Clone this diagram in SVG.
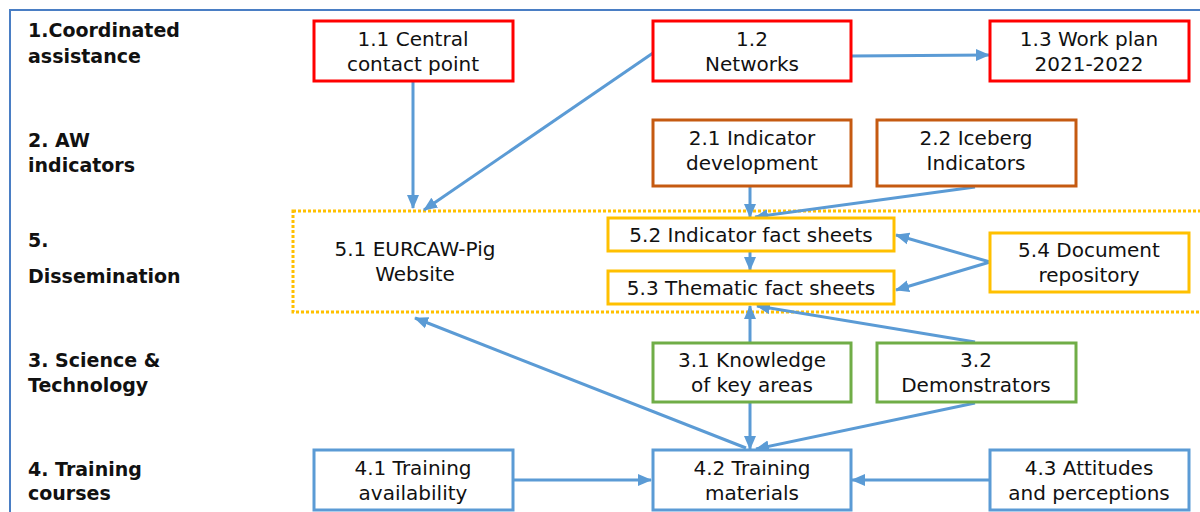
<svg xmlns="http://www.w3.org/2000/svg" width="1200" height="512" viewBox="0 0 1200 512">
<defs>
<style>
.lbl{font-family:"DejaVu Sans","Liberation Sans",sans-serif;font-weight:bold;font-size:19px;fill:#111}
.t{font-family:"DejaVu Sans","Liberation Sans",sans-serif;font-size:20px;fill:#111;text-anchor:middle}
.box{fill:#fff;stroke-width:3}
.red{stroke:#FF0000}
.brn{stroke:#C55A11}
.yel{stroke:#FFC000}
.grn{stroke:#70AD47}
.blu{stroke:#5B9BD5}
.c{stroke:#5B9BD5;stroke-width:3;fill:none;marker-end:url(#ah)}
</style>
<marker id="ah" markerUnits="userSpaceOnUse" markerWidth="14" markerHeight="14" viewBox="0 0 14 14" refX="13" refY="7" orient="auto">
<path d="M0,1 L14,7 L0,13 Z" fill="#5B9BD5"/>
</marker>
</defs>
<rect width="1200" height="512" fill="#fff"/>
<rect x="10" y="10" width="1200" height="520" fill="none" stroke="#4A7EC4" stroke-width="2"/>

<g id="labels">
<text class="lbl" x="28" y="37">1.Coordinated</text>
<text class="lbl" x="28" y="63">assistance</text>
<text class="lbl" x="28" y="147">2. AW</text>
<text class="lbl" x="28" y="172">indicators</text>
<text class="lbl" x="28" y="247">5.</text>
<text class="lbl" x="28" y="283">Dissemination</text>
<text class="lbl" x="28" y="367">3. Science &amp;</text>
<text class="lbl" x="28" y="392">Technology</text>
<text class="lbl" x="28" y="476">4. Training</text>
<text class="lbl" x="28" y="500">courses</text>
</g>

<g id="dissemination-group">
<rect x="293" y="211" width="930" height="101" fill="none" stroke="#FFC000" stroke-width="3" stroke-dasharray="3 2"/>
</g>

<g id="connectors">
<line class="c" x1="413" y1="82" x2="413" y2="208"/>
<line class="c" x1="653" y1="53" x2="424" y2="210"/>
<line class="c" x1="851" y1="56" x2="989" y2="55"/>
<line class="c" x1="750" y1="187" x2="750" y2="217"/>
<line class="c" x1="975" y1="187" x2="755" y2="217"/>
<line class="c" x1="750" y1="252" x2="750" y2="270"/>
<line class="c" x1="990" y1="262" x2="896" y2="235"/>
<line class="c" x1="990" y1="262" x2="896" y2="290"/>
<line class="c" x1="750" y1="342" x2="750" y2="306"/>
<line class="c" x1="975" y1="342" x2="757" y2="306"/>
<line class="c" x1="750" y1="403" x2="750" y2="449"/>
<line class="c" x1="975" y1="403" x2="756" y2="449"/>
<line class="c" x1="746" y1="448" x2="415" y2="318"/>
<line class="c" x1="514" y1="480" x2="651" y2="480"/>
<line class="c" x1="990" y1="480" x2="852" y2="480"/>
</g>

<g id="n11"><rect class="box red" x="314" y="21" width="199" height="60"/><text class="t" x="413" y="46">1.1 Central</text><text class="t" x="413" y="71">contact point</text></g>
<g id="n12"><rect class="box red" x="653" y="21" width="198" height="60"/><text class="t" x="752" y="46">1.2</text><text class="t" x="752" y="71">Networks</text></g>
<g id="n13"><rect class="box red" x="990" y="21" width="199" height="60"/><text class="t" x="1089" y="46">1.3 Work plan</text><text class="t" x="1089" y="71">2021-2022</text></g>

<g id="n21"><rect class="box brn" x="653" y="120" width="198" height="66"/><text class="t" x="752" y="145">2.1 Indicator</text><text class="t" x="752" y="170">development</text></g>
<g id="n22"><rect class="box brn" x="877" y="120" width="199" height="66"/><text class="t" x="976" y="145">2.2 Iceberg</text><text class="t" x="976" y="170">Indicators</text></g>

<g id="n51"><text class="t" x="415" y="256">5.1 EURCAW-Pig</text><text class="t" x="415" y="281">Website</text></g>
<g id="n52"><rect class="box yel" x="608" y="218" width="286" height="33"/><text class="t" x="751" y="242">5.2 Indicator fact sheets</text></g>
<g id="n53"><rect class="box yel" x="608" y="271" width="286" height="33"/><text class="t" x="751" y="295">5.3 Thematic fact sheets</text></g>
<g id="n54"><rect class="box yel" x="990" y="233" width="199" height="59"/><text class="t" x="1089" y="257">5.4 Document</text><text class="t" x="1089" y="282">repository</text></g>

<g id="n31"><rect class="box grn" x="653" y="343" width="198" height="59"/><text class="t" x="752" y="367">3.1 Knowledge</text><text class="t" x="752" y="392">of key areas</text></g>
<g id="n32"><rect class="box grn" x="877" y="343" width="199" height="59"/><text class="t" x="976" y="367">3.2</text><text class="t" x="976" y="392">Demonstrators</text></g>

<g id="n41"><rect class="box blu" x="314" y="450" width="199" height="60"/><text class="t" x="413" y="475">4.1 Training</text><text class="t" x="413" y="500">availability</text></g>
<g id="n42"><rect class="box blu" x="653" y="450" width="198" height="60"/><text class="t" x="752" y="475">4.2 Training</text><text class="t" x="752" y="500">materials</text></g>
<g id="n43"><rect class="box blu" x="990" y="450" width="199" height="60"/><text class="t" x="1089" y="475">4.3 Attitudes</text><text class="t" x="1089" y="500">and perceptions</text></g>
</svg>
